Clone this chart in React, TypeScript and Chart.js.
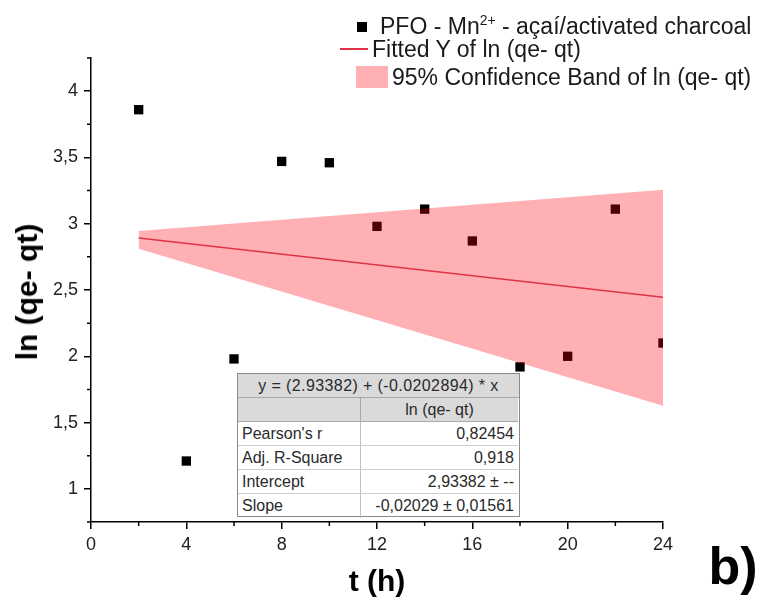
import React, { useEffect, useRef } from "react";
import { Chart, registerables } from "chart.js";

Chart.register(...registerables);

// ---- data ----
const timeH = [2, 4, 6, 8, 10, 12, 14, 16, 18, 20, 22, 24];
const lnValues = [3.86, 1.21, 1.98, 3.47, 3.46, 2.98, 3.11, 2.87, 1.92, 2.0, 3.11, 2.1];
const fitX = [2, 24];
const fitY = [2.893, 2.446];
const bandUpper = [2.945, 3.257];
const bandLower = [2.812, 1.627];
const xMajorTicks = [0, 4, 8, 12, 16, 20, 24];
const xMinorTicks = [2, 6, 10, 14, 18, 22];
const yMajorTicks = [1, 1.5, 2, 2.5, 3, 3.5, 4];
const yMinorTicks = [0.75, 1.25, 1.75, 2.25, 2.75, 3.25, 3.75, 4.25];
const tableEquation = "y = (2.93382) + (-0.0202894) * x";
const tableColumn = "ln (qe- qt)";
const tableRows = [
  ["Pearson's r", "0,82454"],
  ["Adj. R-Square", "0,918"],
  ["Intercept", "2,93382 ± --"],
  ["Slope", "-0,02029 ± 0,01561"],
];

const FONT = "'Liberation Sans', Arial, Helvetica, sans-serif";

const minorTickPlugin = {
  id: "minorTicks",
  afterDraw(chart: any) {
    const ctx = chart.ctx;
    const xs = chart.scales.x;
    const ys = chart.scales.y;
    ctx.save();
    ctx.strokeStyle = "#000";
    ctx.lineWidth = 1.5;
    const axisY = ys.getPixelForValue(ys.min);
    const axisX = xs.getPixelForValue(xs.min);
    ctx.beginPath();
    xMinorTicks.forEach((v) => {
      const px = xs.getPixelForValue(v);
      ctx.moveTo(px, axisY);
      ctx.lineTo(px, axisY + 4);
    });
    yMinorTicks.forEach((v) => {
      const py = ys.getPixelForValue(v);
      ctx.moveTo(axisX, py);
      ctx.lineTo(axisX - 4, py);
    });
    ctx.stroke();
    ctx.restore();
  },
};

export default function App() {
  const canvasRef = useRef<HTMLCanvasElement | null>(null);

  useEffect(() => {
    const canvas = canvasRef.current;
    if (!canvas) return;
    const points = timeH.map((t, i) => ({ x: t, y: lnValues[i] }));
    const fit = fitX.map((t, i) => ({ x: t, y: fitY[i] }));
    const up = fitX.map((t, i) => ({ x: t, y: bandUpper[i] }));
    const low = fitX.map((t, i) => ({ x: t, y: bandLower[i] }));

    const chart = new Chart(canvas, {
      type: "scatter",
      data: {
        datasets: [
          {
            label: "PFO - Mn2+ - açaí/activated charcoal",
            data: points,
            pointStyle: "rect",
            pointRadius: 6.6,
            pointBackgroundColor: "#000",
            pointBorderWidth: 0,
            showLine: false,
            order: 3,
          } as any,
          {
            type: "line",
            label: "95% Confidence Band of ln (qe- qt)",
            data: up,
            borderWidth: 0,
            borderColor: "rgba(0,0,0,0)",
            backgroundColor: "rgba(255,0,15,0.31)",
            pointRadius: 0,
            fill: 2,
            order: 2,
          } as any,
          {
            type: "line",
            label: "lower",
            data: low,
            borderWidth: 0,
            borderColor: "rgba(0,0,0,0)",
            pointRadius: 0,
            fill: false,
            order: 2,
          } as any,
          {
            type: "line",
            label: "Fitted Y of ln (qe- qt)",
            data: fit,
            borderColor: "#E03246",
            borderWidth: 1.5,
            pointRadius: 0,
            fill: false,
            order: 1,
          } as any,
        ],
      },
      options: {
        responsive: false,
        animation: false,
        events: [],
        layout: { padding: { top: 58, right: 98, left: 0, bottom: 0 } },
        plugins: {
          legend: { display: false },
          tooltip: { enabled: false },
          title: { display: false },
        },
        scales: {
          x: {
            type: "linear",
            min: 0,
            max: 24,
            afterBuildTicks: (scale: any) => {
              scale.ticks = xMajorTicks.map((v) => ({ value: v }));
            },
            afterFit: (scale: any) => {
              scale.height = 78;
            },
            ticks: {
              color: "#222",
              font: { family: FONT, size: 18 },
              padding: 5,
              maxRotation: 0,
              autoSkip: false,
            },
            grid: {
              drawOnChartArea: false,
              drawTicks: true,
              tickLength: 7,
              color: "#000",
              lineWidth: 1.5,
            },
            border: { display: true, color: "#000", width: 1.5 },
          },
          y: {
            type: "linear",
            min: 0.75,
            max: 4.25,
            afterBuildTicks: (scale: any) => {
              scale.ticks = yMajorTicks.map((v) => ({ value: v }));
            },
            afterFit: (scale: any) => {
              scale.width = 91;
            },
            ticks: {
              color: "#222",
              font: { family: FONT, size: 18 },
              padding: 6,
              autoSkip: false,
              callback: (v: any) => String(v).replace(".", ","),
            },
            grid: {
              drawOnChartArea: false,
              drawTicks: true,
              tickLength: 7,
              color: "#000",
              lineWidth: 1.5,
            },
            border: { display: true, color: "#000", width: 1.5 },
          },
        },
      },
      plugins: [minorTickPlugin],
    });
    return () => chart.destroy();
  }, []);

  const txt: React.CSSProperties = {
    position: "absolute",
    fontFamily: FONT,
    color: "#1a1a1a",
    whiteSpace: "nowrap",
    lineHeight: 1,
  };
  const rowH = 24;
  const cellBase: React.CSSProperties = {
    position: "absolute",
    height: rowH,
    lineHeight: rowH + "px",
    fontFamily: FONT,
    fontSize: 16,
    color: "#2a2a2a",
    boxSizing: "border-box",
    whiteSpace: "nowrap",
    overflow: "hidden",
  };
  const tblW = 283;
  const colX = 123;

  return (
    <div style={{ position: "absolute", left: 0, top: 0, width: 761, height: 600, background: "#fff", overflow: "hidden" }}>
      <canvas ref={canvasRef} width={761} height={600} style={{ position: "absolute", left: 0, top: 0, width: 761, height: 600 }} />

      {/* legend */}
      <div style={{ position: "absolute", left: 357, top: 22, width: 10, height: 10, background: "#000" }} />
      <div style={{ ...txt, left: 380, top: 15, fontSize: 23 }}>
        PFO - Mn<sup style={{ fontSize: 14, verticalAlign: "9px", lineHeight: 0 }}>2+</sup> - açaí/activated charcoal
      </div>
      <div style={{ position: "absolute", left: 340, top: 48, width: 28, height: 1.5, background: "#E03246" }} />
      <div style={{ ...txt, left: 372, top: 38, fontSize: 23 }}>Fitted Y of ln (qe- qt)</div>
      <div style={{ position: "absolute", left: 356, top: 66, width: 32, height: 22, background: "#FFB0B4" }} />
      <div style={{ ...txt, left: 392, top: 66, fontSize: 23 }}>95% Confidence Band of ln (qe- qt)</div>

      {/* axis titles */}
      <div
        style={{
          ...txt,
          left: 27,
          top: 292,
          fontSize: 30,
          fontWeight: "bold",
          color: "#000",
          transform: "translate(-50%, -50%) rotate(-90deg)",
        }}
      >
        ln (qe- qt)
      </div>
      <div style={{ ...txt, left: 377, top: 581, fontSize: 30, fontWeight: "bold", color: "#000", transform: "translate(-50%, -50%)" }}>
        t (h)
      </div>
      <div style={{ ...txt, left: 733, top: 566, fontSize: 52, fontWeight: "bold", color: "#000", transform: "translate(-50%, -50%)" }}>
        b)
      </div>

      {/* statistics table */}
      <div
        style={{
          position: "absolute",
          left: 237,
          top: 373,
          width: tblW,
          height: rowH * 6,
          background: "#fff",
          border: "1.5px solid #8a8a8a",
          boxSizing: "border-box",
        }}
      >
        <div style={{ ...cellBase, left: 0, top: 0, width: "100%", background: "#DADADA", textAlign: "center", borderBottom: "1px solid #a8a8a8", letterSpacing: 0.4 }}>
          {tableEquation}
        </div>
        <div style={{ ...cellBase, left: 0, top: rowH, width: colX, background: "#DADADA", borderBottom: "1px solid #a8a8a8", borderRight: "1px solid #a8a8a8" }} />
        <div style={{ ...cellBase, left: colX, top: rowH, width: tblW - colX - 3, background: "#DADADA", textAlign: "center", borderBottom: "1px solid #a8a8a8" }}>
          {tableColumn}
        </div>
        {tableRows.map((r, i) => (
          <React.Fragment key={r[0]}>
            <div
              style={{
                ...cellBase,
                left: 0,
                top: rowH * (i + 2),
                width: colX,
                paddingLeft: 4,
                borderRight: "1px solid #c0c0c0",
                borderBottom: i < 3 ? "1px solid #d0d0d0" : "none",
              }}
            >
              {r[0]}
            </div>
            <div
              style={{
                ...cellBase,
                left: colX,
                top: rowH * (i + 2),
                width: tblW - colX - 3,
                paddingRight: 4,
                textAlign: "right",
                borderBottom: i < 3 ? "1px solid #d0d0d0" : "none",
              }}
            >
              {r[1]}
            </div>
          </React.Fragment>
        ))}
      </div>
    </div>
  );
}
